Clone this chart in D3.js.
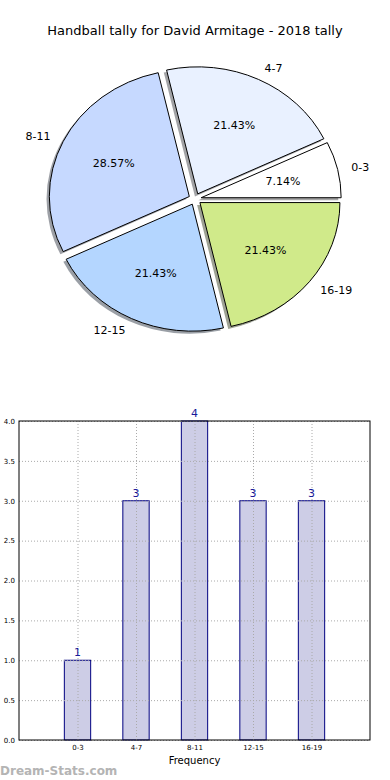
<!DOCTYPE html>
<html>
<head>
<meta charset="utf-8">
<script src="https://cdn.jsdelivr.net/npm/d3@7"></script>
<style>
  body { margin: 0; background: #fff; }
  svg { display: block; font-family: 'DejaVu Sans', sans-serif; }
</style>
</head>
<body>
<div id="chart"></div>
<script>
var categories = ['0-3', '4-7', '8-11', '12-15', '16-19']
var counts = [1, 3, 4, 3, 3]
var sliceColors = ['#ffffff', '#e9f1ff', '#c6d9ff', '#b4d6ff', '#d0ea8a']
var yTicks = [0, 0.5, 1, 1.5, 2, 2.5, 3, 3.5, 4]

var svg = d3
  .select('#chart')
  .append('svg')
  .attr('width', 390)
  .attr('height', 780)

svg
  .append('text')
  .text('Handball tally for David Armitage - 2018 tally')
  .attr('x', 195)
  .attr('y', 35)
  .attr('text-anchor', 'middle')
  .attr('font-size', 13)
  .attr('fill', '#000')

// ---- pie (matplotlib style, stretched to an ellipse) ----
var rx = 140
var ry = 127
var explode = 0.045
var total = d3.sum(counts)

var pie = d3
  .pie()
  .sort(null)
  .startAngle(Math.PI / 2)
  .endAngle(Math.PI / 2 - 2 * Math.PI)

var arc = d3.arc().innerRadius(0).outerRadius(rx)

var slices = pie(counts)

var pieG = svg
  .append('g')
  .attr('transform', 'translate(195,199) scale(1,' + ry / rx + ')')

function midAngle(d) {
  return (d.startAngle + d.endAngle) / 2
}
function offset(d, r) {
  var a = midAngle(d)
  return [Math.sin(a) * r, -Math.cos(a) * r]
}

// shadows
pieG
  .selectAll('.shadow')
  .data(slices)
  .enter()
  .append('path')
  .attr('class', 'shadow')
  .attr('d', arc)
  .attr('transform', function(d) {
    var o = offset(d, explode * rx)
    return 'translate(' + (o[0] - 2.8) + ',' + (o[1] + 2.8) + ')'
  })
  .attr('fill', function(d, i) {
    var c = d3.rgb(sliceColors[i])
    return d3.rgb(c.r * 0.3, c.g * 0.3, c.b * 0.3)
  })
  .attr('opacity', 0.5)

// wedges
pieG
  .selectAll('.wedge')
  .data(slices)
  .enter()
  .append('path')
  .attr('class', 'wedge')
  .attr('d', arc)
  .attr('transform', function(d) {
    var o = offset(d, explode * rx)
    return 'translate(' + o[0] + ',' + o[1] + ')'
  })
  .attr('fill', function(d, i) {
    return sliceColors[i]
  })
  .attr('stroke', '#000')
  .attr('stroke-width', 1)
  .attr('vector-effect', 'non-scaling-stroke')

// labels (outside) and percentages (inside)
var labelG = svg.append('g').attr('transform', 'translate(195,199)')
var sy = ry / rx

labelG
  .selectAll('.label')
  .data(slices)
  .enter()
  .append('text')
  .attr('class', 'label')
  .text(function(d, i) {
    return categories[i]
  })
  .attr('x', function(d) {
    return offset(d, (explode + 1.1) * rx)[0]
  })
  .attr('y', function(d) {
    return offset(d, (explode + 1.1) * rx)[1] * sy
  })
  .attr('dy', '0.35em')
  .attr('text-anchor', function(d) {
    return offset(d, 1)[0] > 0 ? 'start' : 'end'
  })
  .attr('font-size', 11)

labelG
  .selectAll('.pct')
  .data(slices)
  .enter()
  .append('text')
  .attr('class', 'pct')
  .text(function(d) {
    return ((d.value / total) * 100).toFixed(2) + '%'
  })
  .attr('x', function(d) {
    return offset(d, (explode + 0.6) * rx)[0]
  })
  .attr('y', function(d) {
    return offset(d, (explode + 0.6) * rx)[1] * sy
  })
  .attr('dy', '0.35em')
  .attr('text-anchor', 'middle')
  .attr('font-size', 11)

// ---- bar chart ----
var plotLeft = 19
var plotRight = 370
var plotTop = 421
var plotBottom = 740

var xPositionScale = d3.scaleLinear().domain([-1, 5]).range([plotLeft, plotRight])
var yPositionScale = d3.scaleLinear().domain([0, 4]).range([plotBottom, plotTop])
var barWidth = xPositionScale(0.45) - xPositionScale(0)

var barG = svg.append('g')

// bars
barG
  .selectAll('rect')
  .data(counts)
  .enter()
  .append('rect')
  .attr('x', function(d, i) {
    return xPositionScale(i) - barWidth / 2
  })
  .attr('y', function(d) {
    return yPositionScale(d)
  })
  .attr('width', barWidth)
  .attr('height', function(d) {
    return plotBottom - yPositionScale(d)
  })
  .attr('fill', '#cdcde6')
  .attr('stroke', '#000080')
  .attr('stroke-width', 1)

// grid on top, dotted
var xAxis = d3
  .axisBottom(xPositionScale)
  .tickValues(d3.range(categories.length))
  .tickFormat(function(d) {
    return categories[d]
  })
  .tickSize(-(plotBottom - plotTop))
  .tickPadding(5)
barG
  .append('g')
  .attr('class', 'axis x-axis')
  .attr('transform', 'translate(0,' + plotBottom + ')')
  .call(xAxis)

var yAxis = d3
  .axisLeft(yPositionScale)
  .tickValues(yTicks)
  .tickFormat(d3.format('.1f'))
  .tickSize(-(plotRight - plotLeft))
  .tickPadding(4)
barG
  .append('g')
  .attr('class', 'axis y-axis')
  .attr('transform', 'translate(' + plotLeft + ',0)')
  .call(yAxis)

barG.selectAll('.axis path').remove()
barG
  .selectAll('.axis line')
  .attr('stroke', '#aaa')
  .attr('stroke-dasharray', '1,2')
barG
  .selectAll('.axis text')
  .attr('font-size', 7)
  .attr('font-family', "'DejaVu Sans', sans-serif")
  .attr('fill', '#000')

// frame
barG
  .append('rect')
  .attr('x', plotLeft)
  .attr('y', plotTop)
  .attr('width', plotRight - plotLeft)
  .attr('height', plotBottom - plotTop)
  .attr('fill', 'none')
  .attr('stroke', '#000')
  .attr('stroke-width', 1)

// value labels
barG
  .selectAll('.value')
  .data(counts)
  .enter()
  .append('text')
  .attr('class', 'value')
  .text(function(d) {
    return d
  })
  .attr('x', function(d, i) {
    return xPositionScale(i)
  })
  .attr('y', function(d) {
    return yPositionScale(d) - 4
  })
  .attr('text-anchor', 'middle')
  .attr('font-size', 11)
  .attr('fill', '#1a1a9a')

svg
  .append('text')
  .text('Frequency')
  .attr('x', (plotLeft + plotRight) / 2)
  .attr('y', 764)
  .attr('text-anchor', 'middle')
  .attr('font-size', 10)

svg
  .append('text')
  .text('Dream-Stats.com')
  .attr('x', 0)
  .attr('y', 775)
  .attr('font-size', 12)
  .attr('font-weight', 'bold')
  .attr('fill', '#b4b4b4')
</script>
</body>
</html>
